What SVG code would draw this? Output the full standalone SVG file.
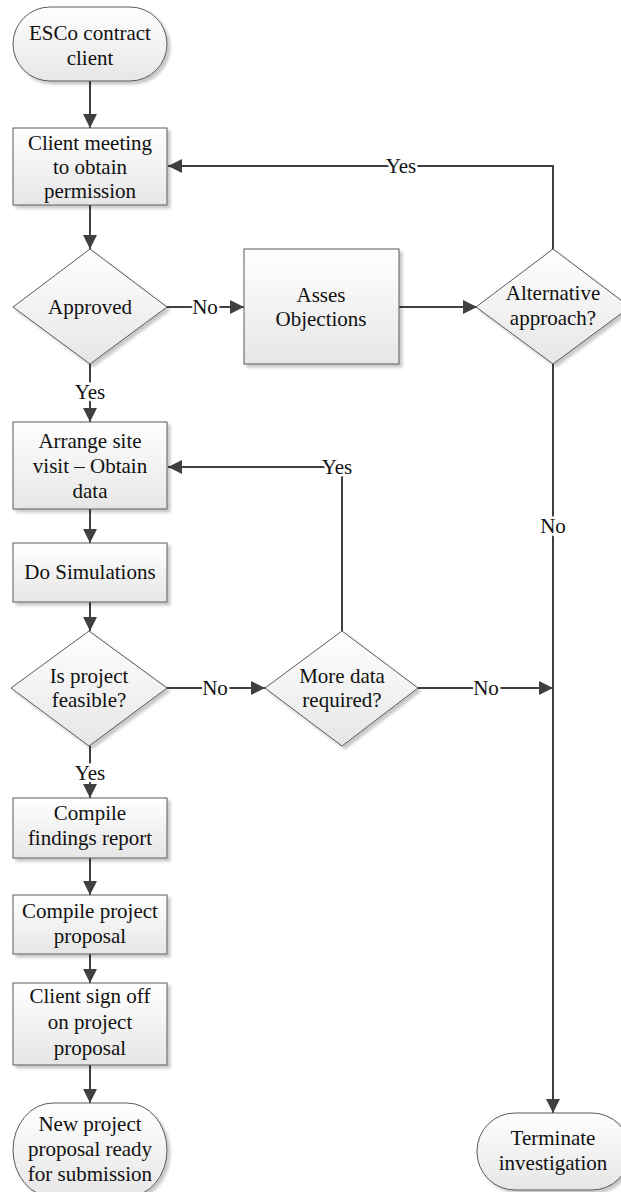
<svg xmlns="http://www.w3.org/2000/svg" width="621" height="1192" viewBox="0 0 621 1192" font-family="Liberation Serif, Times New Roman, DejaVu Serif, serif">
  <defs>
    <linearGradient id="fill" x1="0" y1="0" x2="0" y2="1">
      <stop offset="0" stop-color="#ffffff"/>
      <stop offset="1" stop-color="#e6e6e6"/>
    </linearGradient>
    <filter id="shadow" x="-10%" y="-10%" width="125%" height="125%">
      <feDropShadow dx="3" dy="3" stdDeviation="1.5" flood-color="#000" flood-opacity="0.22"/>
    </filter>
    <marker id="arrow" markerUnits="userSpaceOnUse" markerWidth="14" markerHeight="14" viewBox="0 0 14 14" refX="14" refY="7" orient="auto">
      <path d="M0,0 L14,7 L0,14 Z" fill="#404040"/>
    </marker>
    <style>
      .shape { fill: url(#fill); stroke: #5a5a5a; stroke-width: 1; filter: url(#shadow); }
      .t, .lbl { font-size: 21px; fill: #111; text-anchor: middle; }
      .edge { fill: none; stroke: #404040; stroke-width: 2; }
      .lbl { stroke: #fff; stroke-width: 5; paint-order: stroke; }
    </style>
  </defs>

  <!-- connectors -->
  <g id="connectors">
    <path class="edge" d="M90,81 V128" marker-end="url(#arrow)"/>
    <path class="edge" d="M90,205 V249" marker-end="url(#arrow)"/>
    <path class="edge" d="M167,307 H244" marker-end="url(#arrow)"/>
    <path class="edge" d="M399,307 H477" marker-end="url(#arrow)"/>
    <path class="edge" d="M553,249 V166 H168" marker-end="url(#arrow)"/>
    <path class="edge" d="M553,364 V1113" marker-end="url(#arrow)"/>
    <path class="edge" d="M90,364 V422" marker-end="url(#arrow)"/>
    <path class="edge" d="M90,509 V543" marker-end="url(#arrow)"/>
    <path class="edge" d="M90,602 V631" marker-end="url(#arrow)"/>
    <path class="edge" d="M167,688 H265" marker-end="url(#arrow)"/>
    <path class="edge" d="M342,631 V467 H168" marker-end="url(#arrow)"/>
    <path class="edge" d="M418,688 H553" marker-end="url(#arrow)"/>
    <path class="edge" d="M90,746 V798" marker-end="url(#arrow)"/>
    <path class="edge" d="M90,858 V895" marker-end="url(#arrow)"/>
    <path class="edge" d="M90,954 V983" marker-end="url(#arrow)"/>
    <path class="edge" d="M90,1065 V1103" marker-end="url(#arrow)"/>

    <text class="lbl" x="205" y="314">No</text>
    <text class="lbl" x="401" y="173">Yes</text>
    <text class="lbl" x="553" y="533">No</text>
    <text class="lbl" x="90" y="399">Yes</text>
    <text class="lbl" x="215" y="695">No</text>
    <text class="lbl" x="337" y="474">Yes</text>
    <text class="lbl" x="486" y="695">No</text>
    <text class="lbl" x="90" y="780">Yes</text>
  </g>

  <!-- nodes -->
  <g id="start">
    <rect class="shape" x="13" y="7" width="154" height="74" rx="37" ry="37"/>
    <text class="t" x="90" y="40">ESCo contract</text>
    <text class="t" x="90" y="65">client</text>
  </g>

  <g id="client-meeting">
    <rect class="shape" x="13" y="128" width="154" height="77"/>
    <text class="t" x="90" y="150">Client meeting</text>
    <text class="t" x="90" y="174">to obtain</text>
    <text class="t" x="90" y="198">permission</text>
  </g>

  <g id="approved">
    <polygon class="shape" points="90,249 167,307 90,364 13,307"/>
    <text class="t" x="90" y="314">Approved</text>
  </g>

  <g id="assess-objections">
    <rect class="shape" x="244" y="249" width="155" height="115"/>
    <text class="t" x="321" y="302">Asses</text>
    <text class="t" x="321" y="326">Objections</text>
  </g>

  <g id="alternative-approach">
    <polygon class="shape" points="553,249 630,307 553,364 476,307"/>
    <text class="t" x="553" y="300">Alternative</text>
    <text class="t" x="553" y="325">approach?</text>
  </g>

  <g id="site-visit">
    <rect class="shape" x="13" y="422" width="154" height="87"/>
    <text class="t" x="90" y="448">Arrange site</text>
    <text class="t" x="90" y="473">visit – Obtain</text>
    <text class="t" x="90" y="498">data</text>
  </g>

  <g id="simulations">
    <rect class="shape" x="13" y="543" width="154" height="59"/>
    <text class="t" x="90" y="579">Do Simulations</text>
  </g>

  <g id="feasible">
    <polygon class="shape" points="89,631 167,688 89,746 11,688"/>
    <text class="t" x="89" y="683">Is project</text>
    <text class="t" x="89" y="707">feasible?</text>
  </g>

  <g id="more-data">
    <polygon class="shape" points="342,631 418,688 342,746 265,688"/>
    <text class="t" x="342" y="683">More data</text>
    <text class="t" x="342" y="707">required?</text>
  </g>

  <g id="findings-report">
    <rect class="shape" x="13" y="798" width="154" height="60"/>
    <text class="t" x="90" y="820">Compile</text>
    <text class="t" x="90" y="845">findings report</text>
  </g>

  <g id="project-proposal">
    <rect class="shape" x="13" y="895" width="154" height="59"/>
    <text class="t" x="90" y="918">Compile project</text>
    <text class="t" x="90" y="943">proposal</text>
  </g>

  <g id="sign-off">
    <rect class="shape" x="13" y="983" width="154" height="82"/>
    <text class="t" x="90" y="1003">Client sign off</text>
    <text class="t" x="90" y="1029">on project</text>
    <text class="t" x="90" y="1055">proposal</text>
  </g>

  <g id="proposal-ready">
    <rect class="shape" x="13" y="1103" width="154" height="94" rx="40" ry="47"/>
    <text class="t" x="90" y="1131">New project</text>
    <text class="t" x="90" y="1156">proposal ready</text>
    <text class="t" x="90" y="1181">for submission</text>
  </g>

  <g id="terminate">
    <rect class="shape" x="477" y="1113" width="153" height="77" rx="38" ry="38"/>
    <text class="t" x="553" y="1145">Terminate</text>
    <text class="t" x="553" y="1170">investigation</text>
  </g>
</svg>
